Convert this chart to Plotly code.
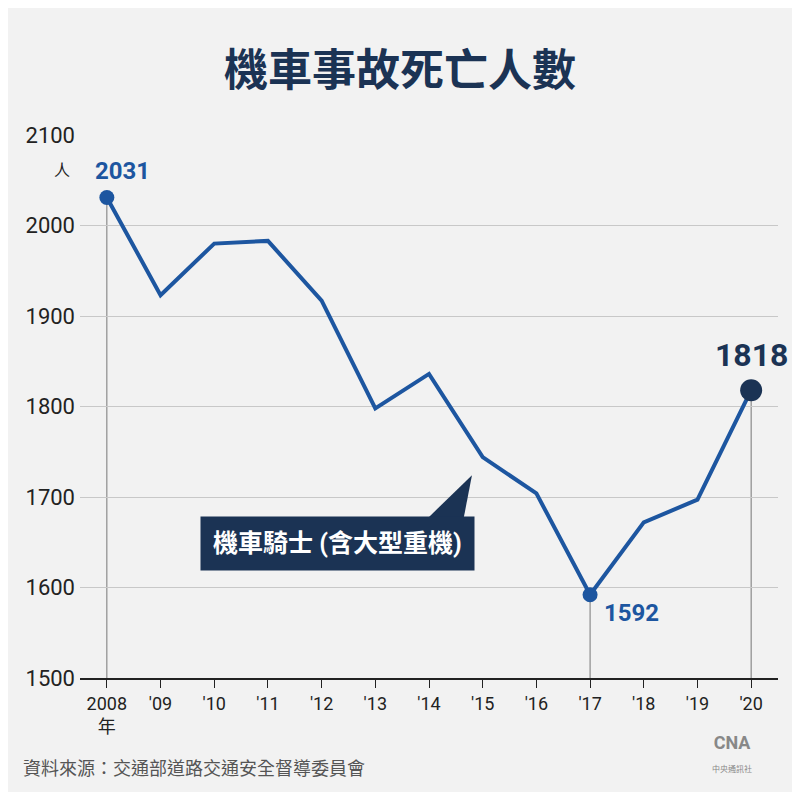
import plotly.graph_objects as go

years = list(range(2008, 2021))
deaths = [2031, 1923, 1980, 1983, 1917, 1798, 1836, 1744, 1704, 1592, 1672, 1697, 1818]
tick_text = ['2008<br>年', "'09", "'10", "'11", "'12", "'13", "'14", "'15", "'16", "'17", "'18", "'19", "'20"]
y_ticks = [1500, 1600, 1700, 1800, 1900, 2000, 2100]

line_c = '#1d56a0'
navy = '#1b3354'
font = 'Roboto, Noto Sans CJK TC'

fig = go.Figure()

# thin drop lines for labelled points
for i in [0, 9, 12]:
    fig.add_shape(type='line', x0=years[i], x1=years[i], y0=1500, y1=deaths[i],
                  line=dict(color='#777', width=1), layer='below')

fig.add_trace(go.Scatter(x=years, y=deaths, mode='lines',
                         line=dict(color=line_c, width=4), hoverinfo='skip'))
fig.add_trace(go.Scatter(x=[years[0], years[9]], y=[deaths[0], deaths[9]], mode='markers',
                         marker=dict(color=line_c, size=15)))
fig.add_trace(go.Scatter(x=[years[12]], y=[deaths[12]], mode='markers',
                         marker=dict(color=navy, size=22)))

fig.add_annotation(x=years[0], y=deaths[0], text='<b>2031</b>', showarrow=False,
                   xanchor='left', yanchor='bottom', xshift=-14, yshift=10,
                   font=dict(size=24, color=line_c, family=font))
fig.add_annotation(x=years[9], y=deaths[9], text='<b>1592</b>', showarrow=False,
                   xanchor='left', yanchor='top', xshift=12, yshift=-2,
                   font=dict(size=24, color=line_c, family=font))
fig.add_annotation(x=years[12], y=deaths[12], text='<b>1818</b>', showarrow=False,
                   xanchor='center', yanchor='bottom', yshift=14,
                   font=dict(size=32, color=navy, family=font))

# callout label
fig.add_shape(type='path', xref='x', yref='y',
              path='M 2014.0 1678 L 2014.65 1678 L 2014.8 1724 Z',
              fillcolor=navy, line=dict(width=0))
fig.add_annotation(x=2012.3, y=1649, text='<b>機車騎士 (含大型重機)</b>', showarrow=False,
                   bgcolor=navy, borderpad=12, font=dict(size=25, color='white', family=font))

fig.add_annotation(x=0, y=0.955, xref='paper', yref='paper', text='人', showarrow=False,
                   xanchor='right', xshift=-8, font=dict(size=16, color='#222', family=font))
fig.add_annotation(x=-0.085, y=-0.19, xref='paper', yref='paper', xanchor='left',
                   text='資料來源：交通部道路交通安全督導委員會', showarrow=False,
                   font=dict(size=18, color='#555', family=font))
fig.add_annotation(x=0.965, y=-0.18, xref='paper', yref='paper',
                   text='<b>CNA</b><br><span style="font-size:8px">中央通訊社</span>', showarrow=False,
                   font=dict(size=18, color='#888', family=font))

fig.update_layout(
    width=784, height=784,
    paper_bgcolor='#f2f2f2', plot_bgcolor='#f2f2f2',
    showlegend=False,
    margin=dict(l=72, r=14, t=127, b=114),
    title=dict(text='<b>機車事故死亡人數</b>', x=0.5, y=0.94, xanchor='center',
               font=dict(size=44, color=navy, family=font)),
    xaxis=dict(range=[2007.5, 2020.5], tickvals=years, ticktext=tick_text,
               showgrid=False, zeroline=False, showline=True, linecolor='#222', linewidth=2,
               ticks='outside', ticklen=8, tickcolor='#222',
               tickfont=dict(size=18, color='#222', family=font)),
    yaxis=dict(range=[1500, 2100], tickvals=y_ticks, showgrid=True, gridcolor='#c8c8c8',
               gridwidth=1, zeroline=False, ticks='', ticklabelstandoff=4,
               tickfont=dict(size=22, color='#222', family=font)),
)

fig.write_html('out.html')
